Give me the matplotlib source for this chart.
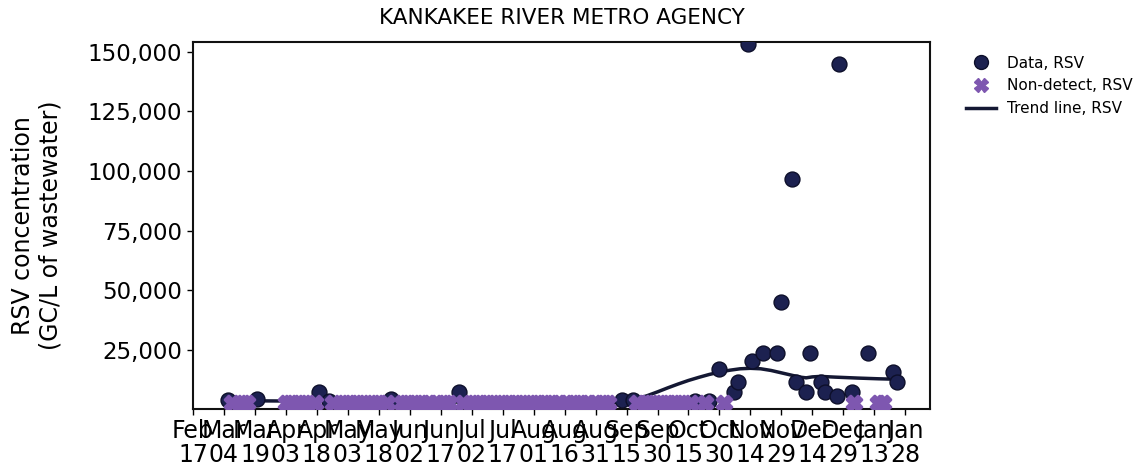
import matplotlib
matplotlib.use('Agg')
import matplotlib.pyplot as plt
import matplotlib.dates as mdates
from matplotlib.ticker import FuncFormatter
from matplotlib.lines import Line2D
import pandas as pd

# Detected samples (GC/L)
data_dates = ['2023-03-06', '2023-03-20', '2023-04-19', '2023-04-24', '2023-05-24',
              '2023-06-26', '2023-09-13', '2023-09-18', '2023-10-18', '2023-10-25',
              '2023-10-30', '2023-11-06', '2023-11-08', '2023-11-13', '2023-11-15',
              '2023-11-20', '2023-11-27', '2023-11-29', '2023-12-04', '2023-12-06',
              '2023-12-11', '2023-12-13', '2023-12-18', '2023-12-20', '2023-12-26',
              '2023-12-27', '2024-01-02', '2024-01-10', '2024-01-22', '2024-01-24']
data_values = [3900, 4000, 7300, 3400, 4400,
               7300, 3600, 3600, 3500, 3500,
               16800, 7300, 11500, 153300, 20000,
               23700, 23700, 44800, 96500, 11500,
               7300, 23700, 11500, 7300, 5400,
               145000, 7300, 23700, 15700, 11500]

# Non-detect samples, plotted at a fixed low value
nd_dates = ['2023-03-08', '2023-03-13', '2023-03-15',
            '2023-04-03', '2023-04-05', '2023-04-10', '2023-04-12', '2023-04-17', '2023-04-26',
            '2023-05-01', '2023-05-03', '2023-05-08', '2023-05-10', '2023-05-15', '2023-05-17',
            '2023-05-22', '2023-05-29', '2023-05-31',
            '2023-06-05', '2023-06-07', '2023-06-12', '2023-06-14', '2023-06-19', '2023-06-21',
            '2023-06-28',
            '2023-07-03', '2023-07-05', '2023-07-10', '2023-07-12', '2023-07-17', '2023-07-19',
            '2023-07-24', '2023-07-26', '2023-07-31',
            '2023-08-02', '2023-08-07', '2023-08-09', '2023-08-14', '2023-08-16', '2023-08-21',
            '2023-08-23', '2023-08-28', '2023-08-30',
            '2023-09-04', '2023-09-06', '2023-09-20', '2023-09-25', '2023-09-27',
            '2023-10-02', '2023-10-04', '2023-10-09', '2023-10-11', '2023-10-16', '2023-10-23',
            '2023-11-01',
            '2024-01-03', '2024-01-15', '2024-01-17']
nd_value = 2500

# Trend line
trend_dates = ['2023-03-06', '2023-04-15', '2023-06-01', '2023-08-01', '2023-09-10',
               '2023-09-15', '2023-09-20', '2023-09-25', '2023-09-30', '2023-10-05',
               '2023-10-10', '2023-10-15', '2023-10-20', '2023-10-25', '2023-10-30',
               '2023-11-04', '2023-11-09', '2023-11-14', '2023-11-19', '2023-11-24',
               '2023-11-29', '2023-12-04', '2023-12-08', '2023-12-11', '2023-12-14',
               '2023-12-18', '2023-12-25', '2024-01-05', '2024-01-15', '2024-01-24']
trend_values = [3500, 3300, 3000, 2800, 2800,
                3200, 4200, 5600, 7200, 8900,
                10500, 12000, 13300, 14500, 15500,
                16300, 16900, 17100, 16900, 16200,
                15200, 14200, 13400, 13100, 13500,
                13700, 13400, 13000, 12700, 12500]

data_color = '#1c2150'
nd_color = '#7e57b0'
trend_color = '#141833'

fig, ax = plt.subplots(figsize=(11.4, 4.65), dpi=100)
fig.subplots_adjust(left=0.1693, right=0.8158, top=0.9097, bottom=0.1204)

ax.plot(pd.to_datetime(trend_dates), trend_values, color=trend_color, lw=2.5, zorder=2)
ax.scatter(pd.to_datetime(data_dates), data_values, s=115, color=data_color,
           edgecolor='#0d0f2a', linewidth=1, zorder=3)
ax.scatter(pd.to_datetime(nd_dates), [nd_value] * len(nd_dates), s=110, marker='X',
           color=nd_color, edgecolor=nd_color, linewidth=2.2, zorder=4)

ax.set_xlim(pd.Timestamp('2023-02-17'), pd.Timestamp('2024-02-09'))
ax.set_ylim(0, 154200)
ax.set_yticks([25000, 50000, 75000, 100000, 125000, 150000])
ax.yaxis.set_major_formatter(FuncFormatter(lambda v, p: f'{int(v):,}'))

ax.set_xticks(pd.date_range('2023-02-17', '2024-01-28', freq='15D'))
ax.xaxis.set_major_formatter(mdates.DateFormatter('%b\n%d'))

ax.tick_params(axis='y', labelsize=16.5, length=4, width=1, direction='out', pad=4)
ax.tick_params(axis='x', labelsize=17, length=4, width=1, direction='out', pad=3)
for lbl in ax.get_xticklabels():
    lbl.set_linespacing(1.0)
for sp in ax.spines.values():
    sp.set_linewidth(1.5)
    sp.set_color('#111111')

ax.set_ylabel('RSV concentration\n(GC/L of wastewater)', fontsize=17, labelpad=18)
ax.set_title('KANKAKEE RIVER METRO AGENCY', fontsize=15.5, pad=13)

handles = [
    Line2D([], [], marker='o', ls='none', markersize=10, markerfacecolor=data_color,
           markeredgecolor='#0d0f2a', label='Data, RSV'),
    Line2D([], [], marker='X', ls='none', markersize=10, markerfacecolor=nd_color,
           markeredgecolor=nd_color, label='Non-detect, RSV'),
    Line2D([], [], color=trend_color, lw=2.5, label='Trend line, RSV'),
]
ax.legend(handles=handles, loc='upper left', bbox_to_anchor=(1.03, 1.0),
          frameon=False, fontsize=11, labelspacing=0.5, handletextpad=0.7)

fig.savefig('out.png', dpi=100, facecolor='white')
